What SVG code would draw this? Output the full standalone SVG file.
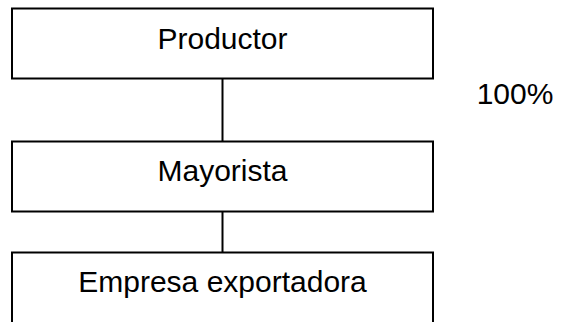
<svg xmlns="http://www.w3.org/2000/svg" width="561" height="322" viewBox="0 0 561 322">
<style>
.box{fill:#fff;stroke:#000;stroke-width:2}
.lbl{font-family:"Liberation Sans",Arial,sans-serif;font-size:30px;fill:#000;text-anchor:middle}
.con{stroke:#000;stroke-width:2;fill:none}
</style>
<rect width="561" height="322" fill="#fff"/>
<g id="connectors">
<line class="con" x1="222.5" y1="78.5" x2="222.5" y2="141.5"/>
<line class="con" x1="222.5" y1="211.5" x2="222.5" y2="252.5"/>
</g>
<g id="productor">
<rect class="box" x="12" y="8.5" width="421" height="70"/>
<text class="lbl" x="222.5" y="49">Productor</text>
</g>
<g id="mayorista">
<rect class="box" x="12" y="141.5" width="421" height="70"/>
<text class="lbl" x="222.5" y="181">Mayorista</text>
</g>
<g id="empresa">
<rect class="box" x="12" y="252.5" width="421" height="100"/>
<text class="lbl" x="222.5" y="292">Empresa exportadora</text>
</g>
<text class="lbl" x="515" y="104">100%</text>
</svg>
